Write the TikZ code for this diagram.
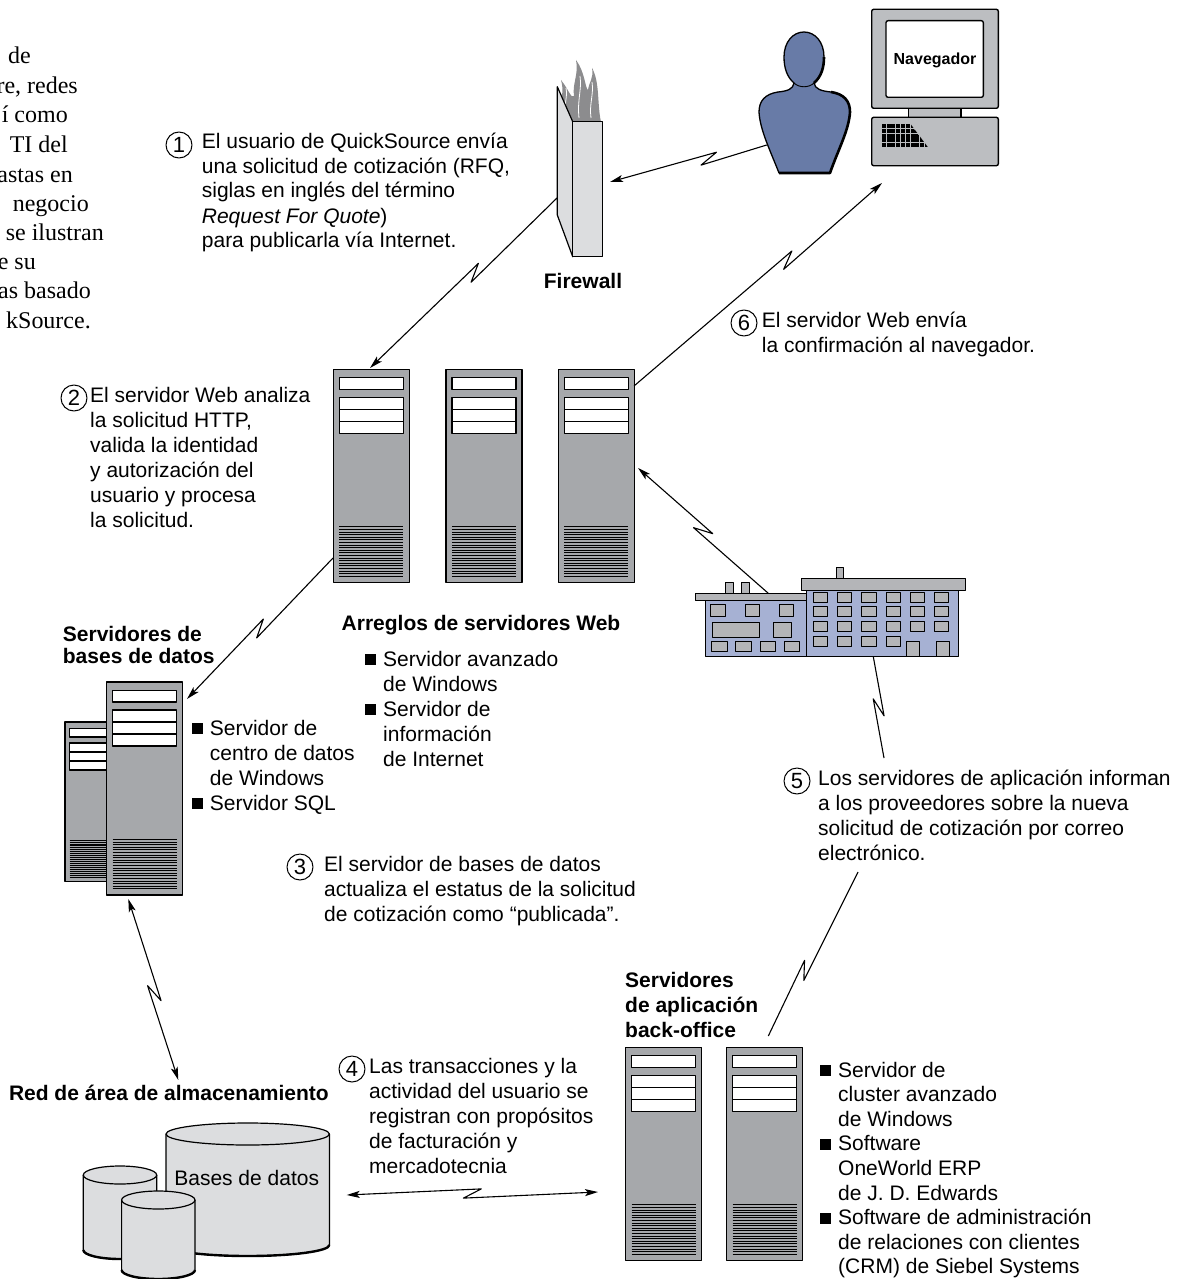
\documentclass[tikz,border=0pt]{standalone}
\usepackage{fontspec}
\setmainfont{Liberation Sans}
\newfontfamily\bookfont{Liberation Serif}
\usetikzlibrary{calc,arrows.meta}

\definecolor{towergray}{HTML}{A6A8AB}
\definecolor{lightgray}{HTML}{DCDDDF}
\definecolor{monitorgray}{HTML}{BCBEC1}
\definecolor{personblue}{HTML}{687BA7}
\definecolor{bldblue}{HTML}{A6B1D3}
\definecolor{bldgray}{HTML}{B4B5B8}
\definecolor{flamegray}{HTML}{8C8C8E}

\tikzset{
  link/.style={line width=1.1pt},
  tip/.style={-{Stealth[length=13pt,width=7pt,inset=3pt]}},
  tips/.style={{Stealth[length=13pt,width=7pt,inset=3pt]}-{Stealth[length=13pt,width=7pt,inset=3pt]}},
  txt/.style={anchor=base west, inner sep=0pt, font=\fontsize{21pt}{25pt}\selectfont},
  lbl/.style={inner sep=0pt, font=\fontsize{21pt}{25pt}\selectfont\bfseries},
  num/.style={circle, draw, line width=1pt, minimum size=26pt, inner sep=0pt, font=\fontsize{22pt}{22pt}\selectfont},
  book/.style={anchor=base east, inner sep=0pt, font=\bookfont\fontsize{24pt}{29pt}\selectfont},
  win/.style={fill=bldgray, draw=black, line width=0.9pt},
}

% left-aligned lines whose baseline is the baseline of the first line
\newcommand\para[1]{\vtop{\let\\\cr\halign{##\hfil\cr#1\cr}}}
% bullet square and hanging indent for the feature lists
\newcommand\bul{\makebox[18pt][l]{\raisebox{1pt}{\rule{11pt}{11pt}}}}
\newcommand\ind{\hspace*{18pt}}

% a tower server, 76 x 213 units, drawn in the current scope
\newcommand\tower[1]{%
  \begin{scope}[#1]
    \filldraw[fill=towergray, draw=black, line width=1.2pt] (0,0) rectangle (76,213);
    \filldraw[fill=white, line width=1.1pt] (6,8.5) rectangle (70,20);
    \filldraw[fill=white, line width=1.1pt] (6,28) rectangle (70,64);
    \draw[line width=1.1pt] (6,40) -- (70,40) (6,52) -- (70,52);
    \foreach \k in {0,...,19} \draw[line width=1pt] (6,157.5+2.6*\k) -- (70,157.5+2.6*\k);
  \end{scope}}

% storage drum: centre x, top y, bottom y, x radius, y radius
\newcommand\drum[5]{%
  \filldraw[fill=lightgray, line width=1.2pt]
    ({#1-#4},#2) -- ({#1-#4},#3) arc[start angle=180,end angle=360,x radius=#4pt,y radius=#5pt]
    -- ({#1+#4},#2) arc[start angle=0,end angle=180,x radius=#4pt,y radius=#5pt] -- cycle;
  \draw[line width=1.2pt] ({#1-#4},#2) arc[start angle=180,end angle=360,x radius=#4pt,y radius=#5pt];
  \draw[line width=2.4pt] ({#1-#4},#3) arc[start angle=180,end angle=360,x radius=#4pt,y radius=#5pt];}

% link with a lightning break: [tips], from, to, position of break, side offset
\newcommand\zap[5][]{%
  \coordinate (zm) at ($(#2)!#4!(#3)$);
  \coordinate (zf) at ($(zm)!9pt!(#3)$);
  \coordinate (z1) at ($(zf)!#5!90:(#3)$);
  \coordinate (zb) at ($(zm)!9pt!(#2)$);
  \coordinate (z2) at ($(zb)!#5!90:(#2)$);
  \draw[link,#1] (#2) -- (z1) -- (z2) -- (#3);}

\begin{document}
\begin{tikzpicture}[x=1pt,y=-1pt,line join=round]
\useasboundingbox (0,0) rectangle (1196,1279);

% ---- running text at the left edge
\node[book] (p1) at (31,64) {de};
\node[book] (p2) at (78,94) {re, redes};
\node[book] (p3) at (68,123) {í como};
\node[book] (p4) at (68,153) {TI del};
\node[book] (p5) at (73,182) {astas en};
\node[book] (p6) at (89,211) {negocio};
\node[book] (p7) at (104,240) {se ilustran};
\node[book] (p8) at (36,269) {e su};
\node[book] (p9) at (91,298) {as basado};
\node[book] (p10) at (91,328) {kSource.};

% ---- firewall
\fill[flamegray] (560,122) .. controls (556,106) and (566,98) .. (561,80)
  .. controls (569,90) and (571,99) .. (574,96) .. controls (572,84) and (579,74) .. (576,60)
  .. controls (585,72) and (585,88) .. (588,90) .. controls (589,82) and (594,78) .. (592,68)
  .. controls (600,82) and (597,104) .. (601,122) -- cycle;
\draw[white, line width=0.8pt] (566,118) .. controls (563,105) and (568,98) .. (566,88)
  (579,118) .. controls (577,100) and (582,90) .. (580,76)
  (591,118) .. controls (589,104) and (594,94) .. (592,82);
\filldraw[fill=lightgray, line width=1.2pt] (557.3,86.7) -- (572.7,121.7) -- (572.7,256.7) -- (557.3,215) -- cycle;
\filldraw[fill=lightgray, line width=1.2pt] (572.7,121.7) rectangle (602.7,256.7);
\node[lbl, anchor=base] (lfw) at (583,288) {Firewall};

% ---- user
\filldraw[fill=personblue, line width=1.3pt]
  (794,83) .. controls (793,89) and (788,91) .. (778,92)
  .. controls (765,94) and (759,101) .. (759,112)
  .. controls (760,130) and (770,150) .. (779,173)
  -- (830,173)
  .. controls (838,150) and (849,130) .. (850,112)
  .. controls (850,101) and (844,94) .. (831,92)
  .. controls (821,91) and (815,89) .. (814,83)
  .. controls (821,77) and (824,68) .. (824,57)
  .. controls (824,42) and (815,32) .. (804,32)
  .. controls (793,32) and (784,42) .. (784,57)
  .. controls (784,68) and (787,77) .. (794,83) -- cycle;
\draw[line width=0.9pt] (794,83) .. controls (799,88) and (809,88) .. (814,83);
\draw[line width=2.6pt] (814,83) .. controls (821,77) and (824,68) .. (824,57)
  (831,92) .. controls (844,94) and (850,101) .. (850,112)
  .. controls (849,130) and (838,150) .. (830,173) -- (779,173);

% ---- workstation
\filldraw[fill=monitorgray, line width=1.4pt, rounded corners=2pt] (871.7,9.3) rectangle (998.3,108.3);
\filldraw[fill=white, line width=1.4pt, rounded corners=2pt] (886,20.7) rectangle (983.3,97.3);
\node[inner sep=0pt, font=\fontsize{16pt}{16pt}\selectfont\bfseries] (nav) at (935,60) {Navegador};
\filldraw[fill=monitorgray, line width=1.4pt] (908.7,108.3) rectangle (961,117.3);
\filldraw[fill=monitorgray, line width=1.4pt, rounded corners=2pt] (871.7,117.3) rectangle (998.3,165.7);
\begin{scope}
  \clip (881,122) -- (909,122) -- (936,158) -- (881,158) -- cycle;
  \foreach \r in {0,...,4}
    \foreach \c in {0,...,11}
      \fill (881.7+4.8*\c,124+4.8*\r) rectangle ++(4,4);
\end{scope}

% ---- web server farm
\tower{shift={(333.3,369.3)}}
\tower{shift={(446,369.3)}}
\tower{shift={(558.3,369.3)}}
\node[lbl, anchor=base] (lweb) at (481,630) {Arreglos de servidores Web};
\node[txt] (bweb) at (365,666) {\para{\bul Servidor avanzado\\\ind de Windows\\\bul Servidor de\\\ind información\\\ind de Internet}};

% ---- database servers
\tower{shift={(65,722)},scale=0.75}
\tower{shift={(106.5,682)}}
\node[lbl, anchor=base west, font=\fontsize{21pt}{22pt}\selectfont\bfseries] (ldb) at (62.7,641) {\para{Servidores de\\bases de datos}};
\node[txt] (bdb) at (191.7,735) {\para{\bul Servidor de\\\ind centro de datos\\\ind de Windows\\\bul Servidor SQL}};

% ---- office building
\begin{scope}[line width=0.9pt]
  \filldraw[fill=bldgray] (725.7,582.7) rectangle (733.3,593.3);
  \filldraw[fill=bldgray] (741.7,582.7) rectangle (749.3,593.3);
  \filldraw[fill=bldgray] (836,567.3) rectangle (843.3,578.3);
  \filldraw[fill=bldblue] (705,600.7) rectangle (806,656);
  \filldraw[fill=bldblue] (806,590) rectangle (958.3,656);
  \filldraw[fill=bldgray] (695,593.3) rectangle (806,600.7);
  \filldraw[fill=bldgray] (801.7,578.3) rectangle (965,590);
  \foreach \x in {710.7,745,779.3} \filldraw[win] (\x,604.3) rectangle ++(14.3,12.4);
  \filldraw[win] (712.3,622.3) rectangle (759.3,637.3);
  \filldraw[win] (773.3,622.3) rectangle (791.7,637.3);
  \foreach \x in {711.7,735.7,760,784} \filldraw[win] (\x,641) rectangle ++(15.3,10.7);
  \foreach \x in {813.3,837.3,861.7,886,910,934}
    \foreach \y in {592.3,606.7,621} \filldraw[win] (\x,\y) rectangle ++(14.3,10);
  \foreach \x in {813.3,837.3,861.7,886} \filldraw[win] (\x,636) rectangle ++(14.3,10);
  \filldraw[win] (906,641.7) rectangle (919.3,656);
  \filldraw[win] (936,641.7) rectangle (949.3,656);
\end{scope}

% ---- storage area network
\node[lbl, anchor=base east] (lsan) at (329,1100) {Red de área de almacenamiento};
\drum{120}{1175}{1250}{36.7}{9}
\drum{247.7}{1134}{1245}{81.7}{11}
\drum{158.3}{1200}{1270}{36.7}{9}
\node[inner sep=0pt, font=\fontsize{21pt}{25pt}\selectfont] (dbtext) at (246.7,1178) {Bases de datos};

% ---- back-office application servers
\node[lbl, anchor=base west] (lbo) at (625,987) {\para{Servidores\\de aplicación\\back-office}};
\tower{shift={(625.7,1047.3)}}
\tower{shift={(726.7,1047.3)}}
\node[txt, font=\fontsize{21pt}{24.6pt}\selectfont] (bbo) at (820,1077) {\para{\bul Servidor de\\\ind cluster avanzado\\\ind de Windows\\\bul Software\\\ind OneWorld ERP\\\ind de J. D. Edwards\\\bul Software de administración\\\ind de relaciones con clientes\\\ind (CRM) de Siebel Systems}};

% ---- numbered steps
\node[num] (n1) at (179,145) {1};
\node[txt] (t1) at (201.7,148) {\para{El usuario de QuickSource envía\\una solicitud de cotización (RFQ,\\siglas en inglés del término\\\textit{Request For Quote})\\para publicarla vía Internet.}};
\node[num] (n2) at (74,398) {2};
\node[txt] (t2) at (90,402) {\para{El servidor Web analiza\\la solicitud HTTP,\\valida la identidad\\y autorización del\\usuario y procesa\\la solicitud.}};
\node[num] (n3) at (300,867) {3};
\node[txt] (t3) at (324,871) {\para{El servidor de bases de datos\\actualiza el estatus de la solicitud\\de cotización como “publicada”.}};
\node[num] (n4) at (352,1069) {4};
\node[txt] (t4) at (369,1073) {\para{Las transacciones y la\\actividad del usuario se\\registran con propósitos\\de facturación y\\mercadotecnia}};
\node[num] (n5) at (797,781) {5};
\node[txt] (t5) at (818,785) {\para{Los servidores de aplicación informan\\a los proveedores sobre la nueva\\solicitud de cotización por correo\\electrónico.}};
\node[num] (n6) at (744,323) {6};
\node[txt] (t6) at (761.7,327) {\para{El servidor Web envía\\la confirmación al navegador.}};

% ---- connector end points on the drawings
\coordinate (usr-out) at (766.7,145);
\coordinate (fw-in) at (610,182);
\coordinate (fw-out) at (557,198);
\coordinate (ws1-in) at (370,368);
\coordinate (ws1-out) at (333,558);
\coordinate (db-in) at (187,699);
\coordinate (db-io) at (128.3,899);
\coordinate (san-top) at (178.3,1080);
\coordinate (san-side) at (346.7,1195);
\coordinate (bo-side) at (598,1192);
\coordinate (ws3-out) at (634,386);
\coordinate (mon-in) at (882,183);
\coordinate (bld-roof) at (768.3,593.3);
\coordinate (ws3-in) at (638,468);
\coordinate (bld-base) at (873.3,656.7);
\coordinate (s5-top) at (884,758);
\coordinate (s5-bot) at (858,872);
\coordinate (bo-in) at (768.3,1036);

% ---- connectors
\zap[tip]{usr-out}{fw-in}{0.37}{4.5pt}
\zap[tip]{fw-out}{ws1-in}{0.44}{4.5pt}
\zap[tip]{ws1-out}{db-in}{0.5}{4.5pt}
\zap[tips]{db-io}{san-top}{0.52}{4.5pt}
\zap[tips]{san-side}{bo-side}{0.5}{4.5pt}
\zap[tip]{ws3-out}{mon-in}{0.62}{4.5pt}
\zap[tip]{bld-roof}{ws3-in}{0.5}{4.5pt}
\zap{bld-base}{s5-top}{0.5}{4.5pt}
\zap{s5-bot}{bo-in}{0.6}{4.5pt}

\end{tikzpicture}
\end{document}
